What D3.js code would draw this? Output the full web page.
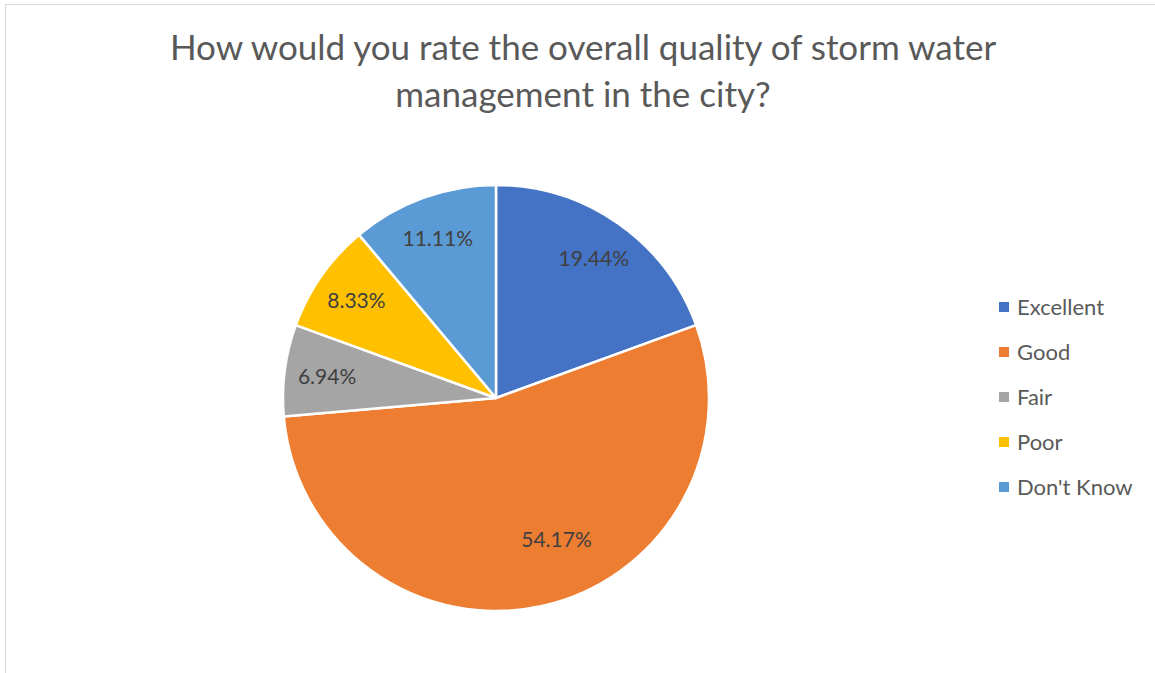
<!doctype html>
<html lang='en'>
  <head>
    <meta charset='utf-8' />
    <style>
      * { padding: 0; margin: 0; }
      body { background: #fff; font-family: Lato, 'Open Sans', sans-serif; }
      svg { display: block; }
    </style>
    <title>Storm water management</title>
  </head>
  <body>
    <div id='container'></div>
    <script src='https://d3js.org/d3.v7.min.js'></script>
    <script type='text/javascript'>

      var categories = ['Excellent', 'Good', 'Fair', 'Poor', "Don't Know"];
      var counts = [14, 39, 5, 6, 8];
      var colors = ['#4472C4', '#ED7D31', '#A5A5A5', '#FFC000', '#5B9BD5'];
      var titleLines = ['How would you rate the overall quality of storm water',
                        'management in the city?'];

      const width = 1155, height = 673;
      const cx = 496, cy = 398, radius = 213;

      var total = d3.sum(counts);

      var svg = d3.select('#container').append('svg')
          .attr('width', width)
          .attr('height', height);

      // chart frame
      svg.append('rect')
        .attr('x', 5.5).attr('y', 4.5)
        .attr('width', width + 10).attr('height', height + 10)
        .attr('fill', 'none')
        .attr('stroke', '#d9d9d9');

      svg.append('g').selectAll('text')
        .data(titleLines)
        .enter()
        .append('text')
        .attr('x', 583)
        .attr('y', function(d, i) { return 60 + i * 47; })
        .attr('text-anchor', 'middle')
        .attr('font-size', 35)
        .attr('fill', '#595959')
        .text(function(d) { return d; });

      var pie = d3.pie().sort(null).value(function(d) { return d; });
      var arcs = pie(counts);

      var arc = d3.arc().innerRadius(0).outerRadius(radius);
      var labelArc = d3.arc().innerRadius(radius * 0.8).outerRadius(radius * 0.8);

      var g = svg.append('g').attr('transform', 'translate(' + cx + ',' + cy + ')');

      g.selectAll('path')
        .data(arcs)
        .enter()
        .append('path')
        .attr('d', arc)
        .attr('fill', function(d, i) { return colors[i]; })
        .attr('stroke', '#fff')
        .attr('stroke-width', 2.5)
        .attr('stroke-linejoin', 'round');

      g.selectAll('text')
        .data(arcs)
        .enter()
        .append('text')
        .attr('transform', function(d) {
          var c = labelArc.centroid(d);
          // big slice: Excel's best fit pulls it toward the middle
          if (d.endAngle - d.startAngle > Math.PI) c = d3.arc().innerRadius(radius * 0.72).outerRadius(radius * 0.72)
            .centroid({startAngle: d.startAngle, endAngle: d.startAngle + (d.endAngle - d.startAngle) * 0.89});
          return 'translate(' + c[0] + ',' + c[1] + ')';
        })
        .attr('dy', '0.38em')
        .attr('text-anchor', 'middle')
        .attr('font-size', 21)
        .attr('fill', '#404040')
        .text(function(d) { return (d.data / total * 100).toFixed(2) + '%'; });

      var legend = svg.append('g').selectAll('g')
        .data(categories)
        .enter()
        .append('g')
        .attr('transform', function(d, i) { return 'translate(999,' + (307 + i * 45) + ')'; });

      legend.append('rect')
        .attr('x', 0).attr('y', -5)
        .attr('width', 10).attr('height', 10)
        .attr('fill', function(d, i) { return colors[i]; });

      legend.append('text')
        .attr('x', 18)
        .attr('dy', '0.36em')
        .attr('font-size', 22)
        .attr('fill', '#595959')
        .text(function(d) { return d; });
    </script>
  </body>
</html>
